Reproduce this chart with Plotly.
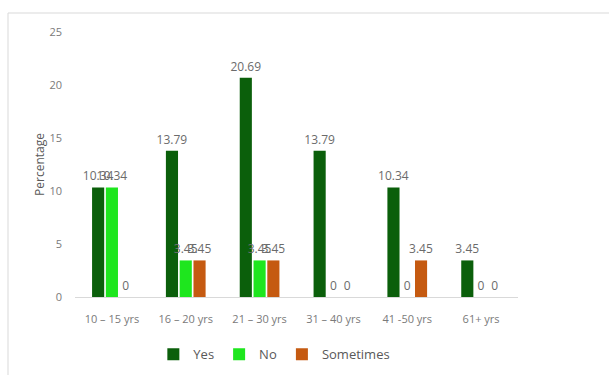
import plotly.graph_objects as go

categories = ["10 – 15 yrs", "16 – 20 yrs", "21 – 30 yrs", "31 – 40 yrs", "41 -50 yrs", "61+ yrs"]
yes_vals = [10.34, 13.79, 20.69, 13.79, 10.34, 3.45]
no_vals = [10.34, 3.45, 3.45, 0, 0, 0]
sometimes_vals = [0, 3.45, 3.45, 0, 3.45, 0]

series = [
    ("Yes", yes_vals, "#0b5f0b"),
    ("No", no_vals, "#1ee61e"),
    ("Sometimes", sometimes_vals, "#c55a11"),
]

W, H = 609, 375
ML, MR, MT, MB = 75, 91, 32, 78

fig = go.Figure()
for name, vals, color in series:
    fig.add_trace(go.Bar(
        name=name, x=categories, y=vals,
        marker=dict(color=color, line=dict(width=0)),
        text=[f"{v:g}" for v in vals], textposition="outside",
        constraintext="none",
        textfont=dict(size=12, color="#6b6b6b"),
        cliponaxis=False,
    ))

pw = W - ML - MR
ph = H - MT - MB
fig.update_layout(
    width=W, height=H,
    margin=dict(l=ML, r=MR, t=MT, b=MB, autoexpand=False),
    paper_bgcolor="white", plot_bgcolor="white",
    font=dict(family="Open Sans, Liberation Sans, sans-serif", color="#6b6b6b"),
    barmode="group", bargap=0.44, bargroupgap=0.12,
    xaxis=dict(showline=True, linecolor="#d9d9d9", linewidth=1, ticks="",
               ticklabelstandoff=12,
               tickfont=dict(size=11, color="#7a7a7a")),
    yaxis=dict(range=[0, 25], dtick=5, showgrid=False, zeroline=False,
               showline=False, ticklabelstandoff=12,
               tickfont=dict(size=11, color="#7a7a7a"),
               title=dict(text="Percentage", font=dict(size=12, color="#595959"), standoff=2)),
    legend=dict(orientation="h", x=0.45, xanchor="center", y=-0.16, yanchor="top",
                font=dict(size=13, color="#595959"), traceorder="normal",
                itemwidth=30, bgcolor="rgba(0,0,0,0)"),
    shapes=[dict(type="rect", xref="paper", yref="paper",
                 x0=(8 - ML) / pw, x1=(W + 5 - ML) / pw,
                 y0=-(H + 5 - MT - ph) / ph, y1=1 + (MT - 13) / ph,
                 line=dict(color="#d9d9d9", width=1))],
)

fig.write_html("out.html")
